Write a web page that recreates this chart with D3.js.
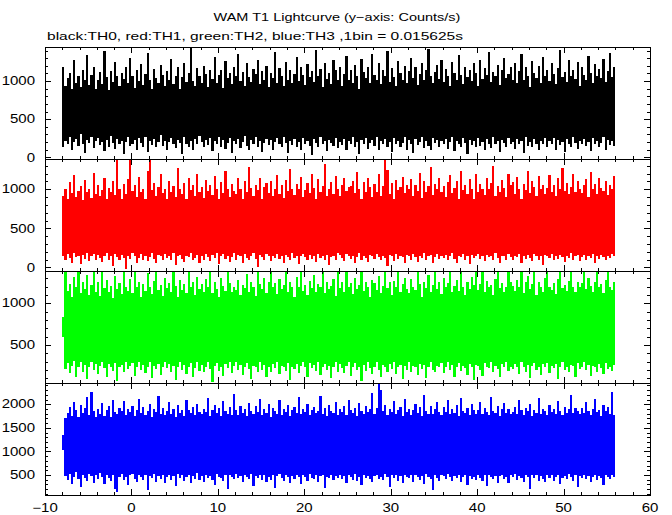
<!DOCTYPE html>
<html><head><meta charset="utf-8">
<script src="https://cdn.jsdelivr.net/npm/d3@7"></script>
<style>html,body{margin:0;padding:0;background:#fff}</style>
</head><body>
<svg id="chart" width="672" height="515"></svg>
<script>
// ---------- DATA ----------
const titleText = "WAM T1 Lightcurve (y\u2212axis: Counts/s)";
const subtitleText = "black:TH0, red:TH1, green:TH2, blue:TH3 ,1bin = 0.015625s";
const startTime = -8;          // s, first bin
const columnWidth = 0.25;      // s, each column = min/max over 16 raw bins
const xTicksMajor = [-10, 0, 10, 20, 30, 40, 50, 60];
const seriesNames = ["TH0", "TH1", "TH2", "TH3"];
const seriesColors = ["#000000", "#ff0000", "#00ff00", "#0000ff"];
const yDomains = [[-22, 1446], [-47, 1388], [44, 1387], [76, 2451]];
const yTicks = [[0, 500, 1000], [0, 500, 1000], [500, 1000], [500, 1000, 1500, 2000]];

const th0Hi = [1180,930,1040,1100,890,1270,980,1060,920,1150,1010,1340,950,1080,1190,900,
1020,1120,960,1400,1050,880,1130,990,1250,1070,940,1110,1030,1180,970,1300,
1060,910,1140,1000,1220,950,1090,1370,1010,890,1160,1040,980,1210,1080,930,
1130,1020,1290,960,1070,1180,900,1050,1240,990,1110,1430,1000,940,1170,1060,
980,1200,1090,920,1150,1030,1320,970,1080,1140,910,1260,1040,1100,960,1190,
1070,1350,1000,1120,940,1230,1050,990,1160,1090,1280,960,1130,1010,1200,920,
1110,1040,1380,980,1170,1060,930,1250,1020,1140,970,1090,1310,1000,1190,1080,
950,1220,1050,1130,990,1410,1070,1160,920,1240,1030,1100,960,1270,1140,1010,
1180,940,1090,1330,1020,1150,980,1210,1060,900,1290,1120,1040,1190,970,1360,
1080,1010,1230,960,1140,1070,1390,990,1170,1050,930,1260,1100,1020,1200,980,
1130,1300,1040,1180,950,1090,1240,1010,1150,1420,1060,970,1120,1210,1030,1280,
990,1160,1070,930,1250,1100,1020,1340,1080,960,1190,1050,1140,1000,1230,1110,
940,1270,1030,1170,1080,1380,990,1120,1060,1210,950,1150,1300,1040,1090,1180,
1020,1240,970,1130,1350,1010,1190,1070,920,1260,1110,1040,1200,980,1320,1060,
1140,1000,1230,1090,960,1170,1410,1050,1120,990,1280,1070,1150,1030,1250,940,
1190,1080,1010,1330,1100,970,1220,1060,1160,1040,1290,990,1130,1370,1050,1180];
const th0Lo = [130,220,180,260,90,200,240,150,310,170,60,230,190,270,120,210,
250,160,200,80,230,140,280,190,110,240,170,220,50,200,260,150,
180,230,100,250,190,140,270,70,210,160,240,130,200,290,150,220,
90,200,250,170,120,230,190,40,260,180,140,220,100,240,170,280,
200,130,230,160,250,80,210,180,270,140,230,110,190,250,60,220,
170,240,120,200,280,150,90,230,180,260,140,210,70,190,240,160,
230,100,200,250,170,130,270,190,60,220,160,240,140,200,90,250,
180,220,150,30,240,190,130,260,170,210,80,230,190,150,250,120,
200,160,240,90,220,180,270,140,200,50,230,170,250,110,190,230,
150,260,100,210,180,240,130,200,70,250,170,220,140,190,260,100,
230,180,60,240,160,200,270,120,220,150,90,250,190,230,140,210,
170,240,110,200,260,80,220,180,140,250,190,40,230,160,210,130,
250,150,200,90,240,180,120,260,170,210,70,230,190,140,250,170,
200,110,240,180,220,60,260,150,200,130,240,180,90,220,170,250,
140,210,180,250,100,230,160,200,70,240,180,130,260,190,110,220,
180,240,150,200,80,250,170,220,130,190,260,100,230,160,210,150];

const th1Hi = [920,1010,870,1090,950,1180,900,980,1040,860,1120,970,1000,890,1210,940,
1060,910,990,1150,880,1020,960,1100,930,1388,1000,870,1070,940,1130,1388,
980,1050,900,1160,960,1010,880,1240,1388,990,1080,920,1030,1190,950,1000,
870,1110,970,1040,900,1270,1010,940,1080,880,1150,990,1050,920,1200,960,
1030,890,1120,980,1060,930,1170,1000,870,1090,950,1230,1010,900,1070,980,
940,1140,1000,880,1100,960,1290,1020,910,1060,990,1150,870,1030,1080,950,
1110,920,1000,1180,940,1050,890,1120,980,1260,1010,930,1070,1000,1160,900,
990,1080,950,1200,1020,870,1130,960,1040,1320,910,1010,1090,940,1170,1000,
920,1060,1150,980,1030,1040,1110,950,1220,1000,880,1090,970,1140,1030,900,
1070,960,1190,910,1040,1388,1250,940,1080,870,1120,990,1030,1160,950,1060,
1000,1130,920,1050,980,1210,890,1100,960,1040,1280,930,1070,1010,1150,970,
1040,900,1090,1180,950,1020,1110,880,1240,990,1060,940,1130,1000,870,1190,
960,1070,1010,930,1150,1000,1080,1300,920,1040,970,1120,1020,900,1200,1050,
1090,940,1160,1010,880,1070,990,1230,950,1110,1030,920,1170,1000,1060,940,
1020,1180,960,1050,910,1140,1000,1270,980,1080,940,1030,1190,960,1100,1010,
950,1060,1130,900,1220,1000,1070,940,1150,1020,980,1110,930,1060,1000,1170];
const th1Lo = [140,90,170,120,60,180,130,150,40,160,110,190,80,140,170,100,
160,120,70,150,180,100,140,20,170,130,90,160,120,-20,150,110,
180,140,60,120,170,100,150,80,130,190,110,50,160,140,90,170,
120,150,100,180,30,140,160,110,70,150,130,180,90,120,160,60,
150,100,170,130,80,160,120,190,40,140,170,110,150,70,130,180,
100,160,140,50,170,120,90,150,180,110,0,160,130,100,170,140,
80,150,120,170,110,140,60,160,130,100,180,120,150,40,140,170,
130,90,160,110,150,70,170,120,140,100,160,30,130,150,90,180,
160,120,80,170,140,110,150,60,130,180,100,150,120,70,160,140,
110,170,130,90,150,120,20,160,140,80,170,110,150,130,60,160,
140,100,170,130,70,150,120,180,90,140,160,50,130,170,110,150,
120,160,90,140,180,110,60,150,130,170,100,140,40,160,120,150,
170,110,140,80,160,130,150,100,180,120,60,150,140,90,170,130,
100,150,130,170,50,140,110,160,120,80,170,140,100,150,30,160,
150,120,170,90,140,110,160,130,70,150,120,180,100,140,160,80,
130,160,100,150,120,170,60,140,110,160,130,90,150,120,170,140];

const th2Hi = [830,1387,1150,1230,1080,1310,1190,1387,1120,1260,1170,1340,1100,1220,1387,1140,
1250,1090,1387,1180,1280,1130,1210,1060,1330,1170,1240,1110,1387,1200,1150,1290,
1120,1387,1190,1260,1080,1230,1150,1360,1200,1110,1270,1387,1160,1220,1090,1300,
1180,1240,1130,1387,1210,1070,1280,1160,1230,1120,1387,1190,1250,1100,1320,1170,
1230,1140,1290,1190,1387,1120,1250,1170,1080,1300,1210,1150,1387,1240,1130,1200,
1160,1280,1100,1220,1180,1350,1140,1260,1200,1090,1387,1230,1170,1300,1120,1250,
1387,1190,1240,1110,1290,1170,1220,1387,1130,1260,1190,1080,1310,1200,1387,1150,
1220,1100,1270,1180,1340,1140,1230,1190,1387,1120,1250,1170,1210,1290,1090,1387,
1180,1260,1130,1387,1200,1240,1110,1300,1170,1220,1387,1150,1260,1190,1080,1280,
1240,1160,1330,1120,1210,1387,1180,1250,1100,1270,1190,1387,1140,1230,1300,1170,
1120,1290,1200,1160,1387,1230,1080,1260,1180,1340,1140,1220,1387,1170,1250,1110,
1300,1190,1240,1387,1130,1210,1280,1150,1387,1200,1100,1260,1170,1310,1220,1387,
1160,1230,1387,1140,1270,1190,1220,1100,1290,1387,1180,1240,1130,1200,1387,1260,
1210,1150,1280,1190,1387,1120,1250,1330,1170,1230,1387,1100,1260,1190,1140,1300,
1387,1200,1160,1240,1110,1290,1387,1180,1220,1150,1270,1387,1200,1130,1250,1190,
1240,1387,1170,1300,1210,1140,1260,1387,1190,1230,1120,1280,1387,1200,1160,1250];
const th2Lo = [590,210,280,160,250,310,120,240,290,180,260,90,230,300,200,270,
150,250,300,220,110,270,240,190,280,70,230,260,170,290,210,250,
280,130,240,300,200,260,160,230,290,100,250,210,270,140,240,300,
220,270,180,250,80,230,290,200,260,150,240,280,120,220,300,190,
260,170,230,290,210,60,250,280,190,240,130,270,220,300,160,250,
300,200,260,140,240,280,210,90,250,230,170,290,200,260,120,240,
180,270,220,300,150,250,230,190,280,80,240,210,270,160,250,290,
240,110,280,220,260,190,300,140,230,270,200,250,100,240,290,180,
270,220,160,250,290,130,240,280,200,230,70,260,190,300,220,150,
230,290,200,120,260,240,180,270,210,300,150,230,260,90,250,200,
290,180,250,230,140,270,210,260,100,240,290,200,170,250,230,280,
160,240,300,200,260,110,230,280,190,250,220,140,270,230,80,260,
250,200,130,280,240,220,290,170,250,210,120,270,240,300,190,230,
210,270,240,150,290,230,180,260,100,250,280,200,230,140,270,240,
280,160,250,220,270,90,240,300,200,230,170,260,250,120,280,210,
240,290,200,260,130,250,230,180,270,220,150,280,210,240,190,260];

const th3Hi = [1350,1700,1820,1950,1760,2050,1880,1720,1990,1810,1930,2150,1780,2260,1850,1740,
1900,1800,2020,1760,1870,1960,1730,2100,1840,1790,1920,1850,2070,1770,1900,1830,
1960,1750,1880,2110,1810,1940,1780,1860,2000,1720,1890,1830,2180,1800,1920,1770,
1850,2040,1790,1910,1740,1980,1820,1870,1760,2090,1880,1810,1950,1780,2010,1840,
1790,1900,1830,2130,1760,1870,1990,1810,1930,1750,2060,1860,1800,1940,1780,2210,
1880,1770,1970,1820,1900,1750,2030,1850,1790,1960,1830,2120,1770,1890,1820,2000,
1740,1930,1860,1800,2080,1780,1910,1840,1990,1760,1870,1950,1810,2150,1790,1900,
1830,2010,1770,1880,1940,1820,1860,2170,1790,1920,1760,1980,1850,1810,2050,1770,
1900,1840,1960,1780,2100,1870,1810,1930,1750,2020,1860,1800,1970,1830,1890,2240,
1790,1920,2420,2300,1850,1980,1770,1900,1830,2060,1790,1880,1950,1760,2110,1840,
1910,1780,1870,2000,1820,1940,1760,2190,1850,1800,1960,1790,1890,2040,1830,1770,
1950,1840,2080,1790,1900,1810,1980,1760,2130,1860,1820,1930,1780,2010,1870,1800,
1880,2050,1790,1920,1840,1770,2160,1860,1810,1960,1750,1890,2030,1820,1910,1790,
1830,1940,1800,2090,1870,1780,1920,1850,2000,1760,1880,1820,2140,1790,1900,1860,
1770,1990,1840,1910,1800,2070,1860,1780,1950,1820,1890,2200,1810,1930,1850,1790,
1920,1810,2040,1860,1770,1900,2110,1830,1880,1760,1990,1850,1940,1800,2270,1770];
const th3Lo = [1030,480,390,520,310,450,560,420,250,500,440,380,530,470,340,490,
410,540,460,300,500,430,370,510,210,150,450,520,390,460,280,500,
530,420,350,490,460,400,510,180,470,440,520,360,480,410,500,320,
450,510,400,470,260,530,430,490,380,460,500,330,470,420,540,390,
480,350,510,440,470,400,290,520,460,430,370,490,200,500,450,410,
520,430,480,360,500,450,410,530,270,470,440,490,390,510,350,460,
400,490,230,470,520,430,380,500,450,340,480,420,510,460,300,490,
460,380,520,440,410,490,350,470,510,220,460,430,500,390,480,440,
510,420,470,330,490,450,400,520,370,460,280,500,440,480,410,360,
470,500,420,450,390,530,460,240,490,430,510,380,470,340,500,450,
430,490,360,510,460,400,480,310,520,450,420,190,490,440,370,500,
480,410,520,450,380,470,430,500,350,460,510,290,480,420,460,390,
500,440,370,490,260,510,450,420,480,340,470,500,410,460,320,490,
450,520,400,470,430,360,500,460,210,490,440,510,380,470,420,350,
490,430,510,380,460,500,300,440,480,410,520,450,370,490,250,470,
440,500,420,480,350,460,510,390,470,430,280,500,450,410,490,460];

const seriesHi = [th0Hi, th1Hi, th2Hi, th3Hi];
const seriesLo = [th0Lo, th1Lo, th2Lo, th3Lo];

// ---------- LAYOUT ----------
const left = 45, right = 650, top0 = 47, panelH = 112;
const svg = d3.select("#chart");
const FONT = "'Liberation Sans', Arial, Helvetica, sans-serif";
const SY = 0.8;

const x = d3.scaleLinear().domain([-10, 60]).range([left, right]);
const xMinor = d3.range(-10, 61, 2).filter(v => v % 10 !== 0);

function addText(g, str, tx, ty, anchor, size, len) {
  const t = g.append("text")
    .attr("transform", `translate(${tx},${ty}) scale(1,${SY})`)
    .attr("text-anchor", anchor)
    .attr("font-family", FONT)
    .attr("font-size", size)
    .attr("fill", "#000")
    .text(str);
  if (len) t.attr("textLength", len).attr("lengthAdjust", "spacingAndGlyphs");
}

addText(svg, titleText, 337, 21, "middle", 14.5);
addText(svg, subtitleText, 47, 40, "start", 14.5, 416);

seriesNames.forEach((name, p) => {
  const pt = top0 + p * panelH, pb = pt + panelH;
  const y = d3.scaleLinear().domain(yDomains[p]).range([pb, pt]);
  const g = svg.append("g").attr("class", "panel-" + name);

  const clipId = "clip" + p;
  svg.append("clipPath").attr("id", clipId)
    .append("rect").attr("x", left).attr("y", pt).attr("width", right - left).attr("height", panelH);

  const cols = seriesHi[p].map((hi, i) => ({t: startTime + i * columnWidth, hi, lo: seriesLo[p][i]}));
  g.append("g").attr("clip-path", `url(#${clipId})`)
    .selectAll("rect").data(cols).join("rect")
    .attr("x", d => x(d.t))
    .attr("width", d => x(d.t + columnWidth) - x(d.t))
    .attr("y", d => y(d.hi))
    .attr("height", d => y(d.lo) - y(d.hi))
    .attr("fill", seriesColors[p])
    .attr("shape-rendering", "crispEdges");

  // ticks
  const yMinor = d3.range(Math.ceil(yDomains[p][0] / 100) * 100, yDomains[p][1], 100)
    .filter(v => v % 500 !== 0);
  const yMajor = d3.range(Math.ceil(yDomains[p][0] / 500) * 500, yDomains[p][1], 500);
  const axes = [
    [() => d3.axisLeft(y), `translate(${left},0)`, yMajor, yMinor],
    [() => d3.axisRight(y), `translate(${right},0)`, yMajor, yMinor],
    [() => d3.axisTop(x), `translate(0,${pt})`, xTicksMajor, xMinor],
    [() => d3.axisBottom(x), `translate(0,${pb})`, xTicksMajor, xMinor]
  ];
  axes.forEach(([make, tr, maj, min]) => {
    [[maj, 6], [min, 3]].forEach(([vals, len]) => {
      const ax = make().tickValues(vals).tickSizeInner(-len).tickSizeOuter(0).tickFormat("");
      const a = g.append("g").attr("transform", tr).call(ax);
      a.select(".domain").remove();
      a.selectAll("text").remove();
      a.selectAll("line").attr("stroke", "#000").attr("shape-rendering", "crispEdges");
    });
  });

  g.append("rect").attr("x", left).attr("y", pt).attr("width", right - left).attr("height", panelH)
    .attr("fill", "none").attr("stroke", "#000").attr("stroke-width", 1).attr("shape-rendering", "crispEdges");

  yTicks[p].forEach(v => addText(g, String(v), 35, y(v) + 4.2, "end", 15));
});

xTicksMajor.forEach(v => addText(svg, d3.format("")(v), x(v), 512, "middle", 15));
</script>
</body></html>
